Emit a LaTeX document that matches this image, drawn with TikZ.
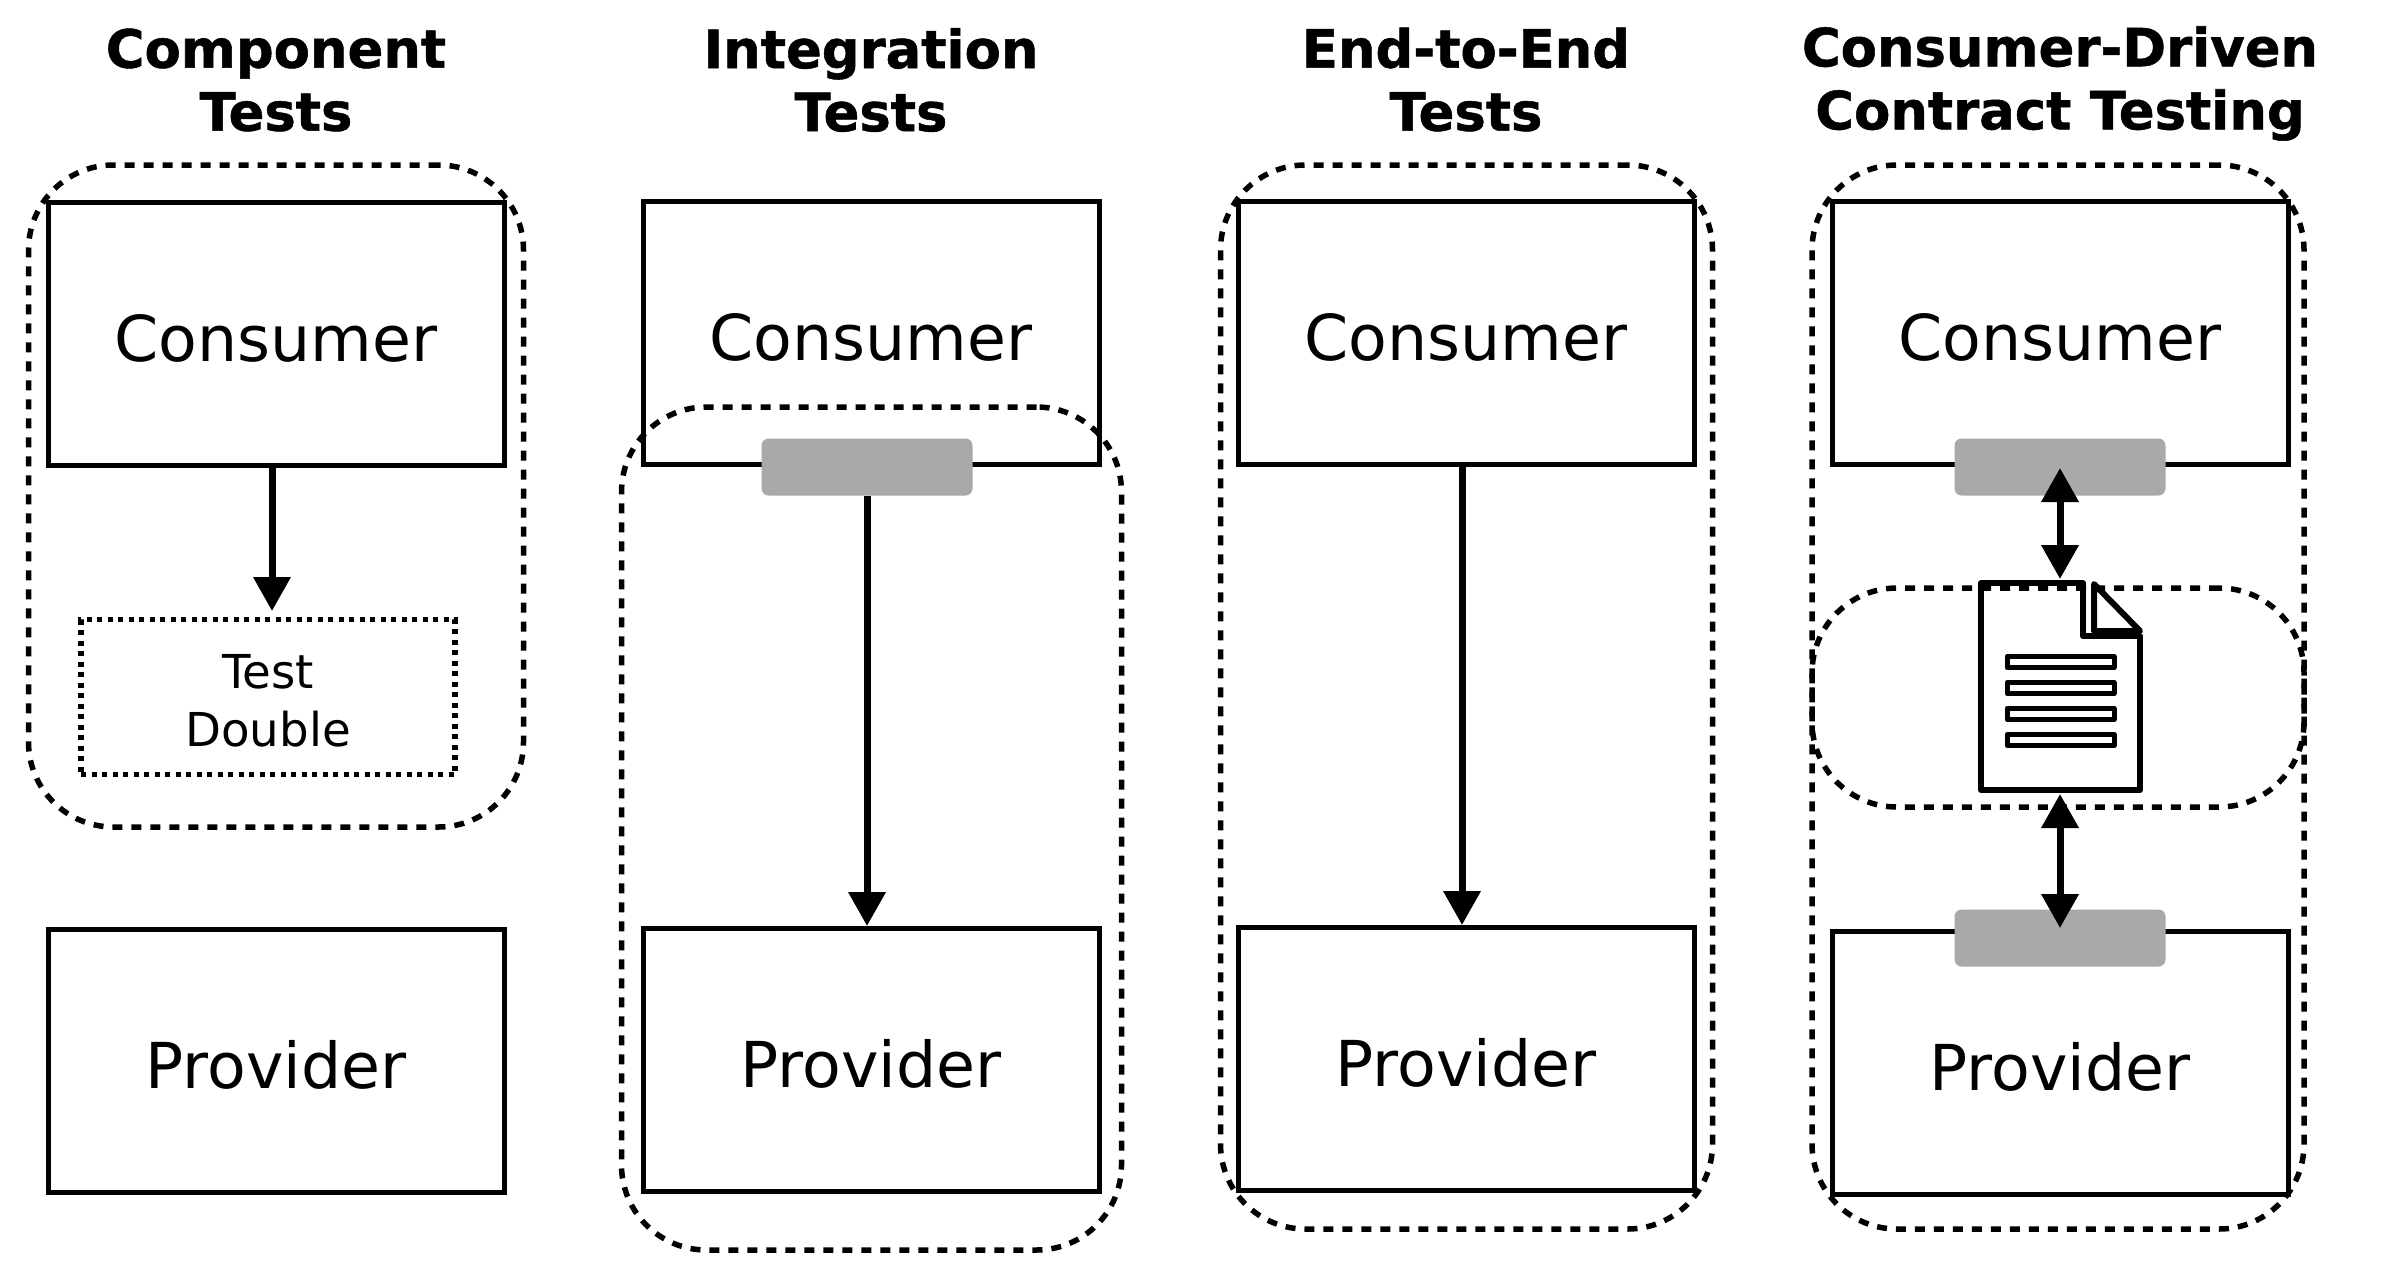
\documentclass[tikz,border=0pt]{standalone}
\usepackage{fontspec}
\setmainfont{DejaVu Sans}
\newfontfamily\titlefont[FakeBold=1]{DejaVu Sans Bold}
\usetikzlibrary{arrows.meta}
\tikzset{
  sysbox/.style={draw=black,line width=5pt,inner sep=0pt,minimum width=456pt,minimum height=263pt},
  group/.style={draw=black,line width=5.5pt,dash pattern=on 10pt off 9pt,rounded corners=85pt,inner sep=0pt},
  double/.style={draw=black,line width=5.5pt,dash pattern=on 5pt off 5.5pt,inner sep=0pt,minimum width=374pt,minimum height=155pt},
  title/.style={inner sep=0pt,align=center,font=\fontsize{52.8}{63}\titlefont},
  stub/.style={fill=stubgray,rounded corners=7pt,inner sep=0pt,minimum width=211pt,minimum height=57pt},
  arr/.style={line width=7pt,-{Triangle[width=36pt,length=34pt]}},
  arrr/.style={line width=7pt,{Triangle[width=36pt,length=34pt]}-{Triangle[width=36pt,length=34pt]}},
  docline/.style={line width=6pt,line join=round},
  docrow/.style={draw=black,line width=5pt,line join=round,inner sep=0pt,minimum width=107pt,minimum height=11pt},
  sysl/.style={inner sep=0pt,font=\fontsize{63.3}{64}\selectfont},
  dbll/.style={inner sep=0pt,align=center,font=\fontsize{46.7}{58}\selectfont},
}
\definecolor{stubgray}{RGB}{168,170,169}
\begin{document}
\begin{tikzpicture}[x=1pt,y=-1pt]
\useasboundingbox (0,0) rectangle (2400,1280);
% titles
\node[title] (t1) at (276,80) {Component\\Tests};
\node[title] (t2) at (871,80) {Integration\\Tests};
\node[title] (t3) at (1466,79.5) {End-to-End\\Tests};
\node[title] (t4) at (2060,83.5) {Consumer-Driven\\Contract Testing};
% boxes
\node[sysbox] (c1) at (276.5,334) {};
\node[sysbox] (p1) at (276.5,1061) {};
\node[sysbox] (c2) at (871.5,333) {};
\node[sysbox] (p2) at (871.5,1060) {};
\node[sysbox] (c3) at (1466.5,333) {};
\node[sysbox] (p3) at (1466.5,1059) {};
\node[sysbox] (c4) at (2060.5,333) {};
\node[sysbox] (p4) at (2060.5,1063) {};
% labels
\foreach \n/\x/\y/\s in {lc1/276/338/Consumer,lp1/276/1065/Provider,lc2/871/337/Consumer,lp2/871/1064/Provider,lc3/1466/337/Consumer,lp3/1466/1063/Provider,lc4/2060/337/Consumer,lp4/2060/1067/Provider}
  \node[sysl] (\n) at (\x,\y) {\s};
% test double
\node[double] (d1) at (268,697) {};
\node[dbll] (ld1) at (268,701) {Test\\Double};
% dashed groups
\node[group,minimum width=495pt,minimum height=662pt] (g1) at (276,496) {};
\node[group,minimum width=500pt,minimum height=843pt] (g2) at (871.5,828.5) {};
\node[group,minimum width=492pt,minimum height=1064pt] (g3) at (1466.5,697) {};
\node[group,minimum width=492pt,minimum height=1064pt] (g4) at (2058,697) {};
\node[group,minimum width=492pt,minimum height=219pt] (g5) at (2058,697.5) {};
% stubs
\node[stub] (s2) at (867,467) {};
\node[stub] (s4) at (2060,467) {};
\node[stub] (s5) at (2060,938) {};
% document
\draw[docline] (1981,583) -- (2083,583) -- (2083,636) -- (2140,636) -- (2140,790) -- (1981,790) -- cycle;
\draw[docline] (2094,584) -- (2140,631) -- (2094,631) -- cycle;
\node[docrow] (r1) at (2060.5,662) {};
\node[docrow] (r2) at (2060.5,688) {};
\node[docrow] (r3) at (2060.5,714) {};
\node[docrow] (r4) at (2060.5,740) {};
% arrows
\coordinate (a1) at (272,611);
\draw[arr] (c1.south -| a1) -- (a1);
\coordinate (a2) at (867,926);
\draw[arr] (s2.south -| a2) -- (p2.north -| a2);
\coordinate (a3) at (1462,926);
\draw[arr] (c3.south -| a3) -- (p3.north -| a3);
\coordinate (e1) at (2060,468);
\coordinate (e2) at (2060,579);
\coordinate (e3) at (2060,794);
\coordinate (e4) at (2060,928);
\draw[arrr] (e1) -- (e2);
\draw[arrr] (e3) -- (e4);
\end{tikzpicture}
\end{document}
